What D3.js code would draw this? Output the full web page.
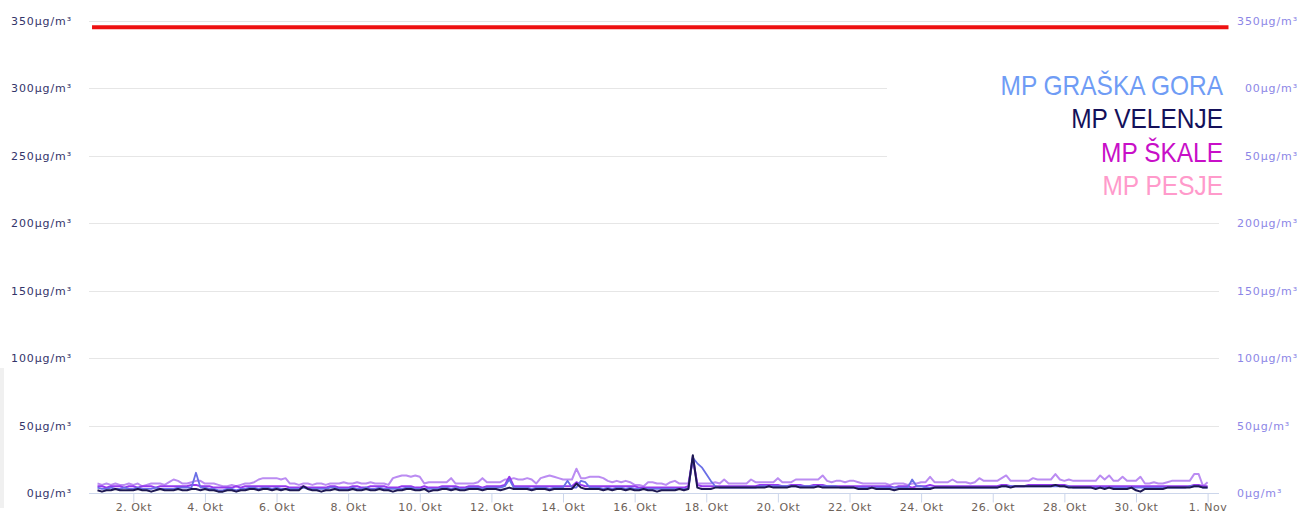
<!DOCTYPE html>
<html><head><meta charset="utf-8">
<script src="https://cdn.jsdelivr.net/npm/d3@7"></script>
<style>
html,body{margin:0;padding:0;background:#fff;overflow:hidden}
svg{display:block}
</style></head>
<body>
<svg id="c" width="1302" height="514"></svg>
<script>
// ---- data (3-hour steps from 1. Okt 00:00) ----
const seriesNames = ["MP GRAŠKA GORA","MP VELENJE","MP ŠKALE","MP PESJE"];
const legendColors = ["#6f9cf5","#14105a","#c80fc8","#ff9acb"];
const lineColors = ["#6a6fe6","#1d1852","#9638ee","#bb8cf2"];
const stepHours = 3;
const startDate = new Date(2023,9,1,0,0);

const grashkaGora = [
4,3,3,4,3,3,4,3, 3,4,3,3,3,4,3,3, 3,3,4,4,4,4,15,4, 4,3,3,2,2,3,3,2,
3,3,4,4,3,4,4,3, 4,3,3,3,3,3,4,3, 3,3,3,3,4,4,3,3, 3,4,3,3,4,3,3,4,
3,3,3,3,3,4,4,3, 3,3,3,3,3,4,4,3, 4,3,3,4,4,4,3,4, 4,4,4,5,10,4,4,4,
4,3,4,4,4,3,4,4, 4,9,4,4,9,8,4,4, 4,3,4,3,4,4,3,4, 3,3,3,3,3,3,3,3,
3,3,3,3,3,26,22,19, 14,9,5,4,4,4,4,4, 4,4,4,4,5,5,5,5, 5,5,5,5,5,5,5,5,
5,5,5,5,5,5,4,4, 4,4,4,4,4,4,4,4, 4,4,4,4,4,4,10,5, 5,4,4,4,4,4,4,4,
4,4,4,4,4,4,4,4, 4,4,5,5,5,5,5,5, 5,5,5,5,5,5,5,5, 5,5,4,4,4,4,4,4,
4,4,4,4,4,4,4,4, 4,4,4,4,4,4,4,4, 4,4,4,4,5,5,5,4, 4];

const velenje = [
2,1,2,2,3,2,2,2, 2,3,2,2,1,2,3,2, 2,2,3,2,2,3,3,2, 3,2,2,1,1,2,2,1,
2,2,3,3,2,3,3,2, 3,2,3,2,2,2,5,3, 2,2,1,2,2,3,2,2, 2,3,2,2,3,2,2,3,
2,2,1,2,2,3,3,2, 2,3,1,2,2,3,3,2, 3,2,2,3,3,3,2,3, 3,3,2,3,4,3,3,3,
3,2,3,3,3,2,3,3, 3,3,3,7,4,3,3,3, 3,2,3,2,3,3,2,3, 2,2,3,2,2,1,2,2,
2,2,3,2,3,28,4,3, 3,3,4,4,4,4,4,4, 4,4,4,4,4,4,5,4, 4,4,4,5,5,4,4,4,
4,5,4,4,4,4,4,4, 4,4,3,3,3,4,3,3, 3,3,2,3,3,3,3,3, 3,3,3,4,4,4,4,4,
4,4,4,4,4,4,4,4, 4,4,5,5,4,5,5,5, 5,5,5,5,5,5,6,5, 5,4,4,4,4,4,4,3,
4,3,4,3,3,3,3,4, 2,1,3,3,3,3,3,4, 4,4,4,4,4,5,5,4, 4];

const skale = [
5,5,4,5,5,5,4,5, 5,4,5,5,5,4,5,5, 5,5,5,5,5,6,6,5, 5,5,4,4,4,4,4,5,
4,5,5,5,5,5,5,5, 5,5,5,4,4,4,5,4, 4,4,4,4,5,5,4,4, 4,5,5,4,4,5,5,5,
5,4,4,4,5,5,5,4, 4,5,4,4,4,5,5,5, 5,4,4,5,5,5,4,5, 5,5,5,6,12,5,5,5,
5,5,5,5,5,5,5,5, 5,5,5,8,6,5,5,5, 5,5,5,5,5,5,5,5, 5,4,4,4,4,4,4,4,
4,4,4,4,5,27,6,5, 5,5,5,5,5,5,5,5, 5,5,5,5,6,6,6,6, 6,5,5,6,6,6,5,5,
6,6,6,5,5,5,5,5, 5,5,5,5,5,5,5,5, 5,5,4,5,5,5,4,5, 5,5,6,5,5,5,5,5,
5,5,5,5,5,5,5,5, 5,5,6,6,5,5,5,5, 6,6,6,6,6,6,6,6, 6,5,5,5,5,5,5,5,
5,5,5,5,5,5,5,5, 5,5,5,5,5,5,5,5, 5,5,5,5,5,6,6,5, 5];

const pesje = [
7,6,7,6,7,6,6,7, 6,7,5,6,7,7,7,6, 8,10,9,7,7,8,9,9, 7,7,7,6,5,5,6,5,
6,7,7,8,10,11,11,11, 11,10,11,7,7,6,7,7, 6,7,7,6,7,7,7,8, 7,7,8,7,7,8,7,7,
7,6,11,12,13,13,12,13, 12,7,8,8,8,8,8,11, 7,7,7,7,7,8,11,8, 8,8,8,10,10,11,10,10,
11,10,7,11,12,13,12,11, 10,10,10,18,11,11,12,12, 12,11,9,8,9,8,9,8, 6,6,5,8,8,7,7,6,
8,9,7,7,7,24,7,7, 7,7,8,7,10,7,7,7, 7,7,10,8,8,8,8,8, 11,8,8,8,10,10,10,10,
10,10,13,9,8,9,9,8, 9,9,8,7,7,7,7,7, 7,6,7,7,7,6,7,7, 8,8,12,8,8,8,8,10,
8,8,8,7,8,11,9,9, 9,9,11,13,9,9,9,9, 9,11,10,10,10,10,14,10, 9,10,9,9,9,9,9,9,
13,10,13,9,9,12,9,9, 9,12,7,7,8,7,7,8, 9,9,9,9,9,14,14,5, 8];

const limitValues = [345,345];
const limitDates = [new Date(2023,8,30,20,20), new Date(2023,10,1,14,0)];

const yTicks = [0,50,100,150,200,250,300,350];
const xTickDates = [2,4,6,8,10,12,14,16,18,20,22,24,26,28,30].map(d=>new Date(2023,9,d)).concat([new Date(2023,10,1)]);
const monthNames = ["Jan","Feb","Mar","Apr","Maj","Jun","Jul","Avg","Sep","Okt","Nov","Dec"];

// ---- chart ----
const svg = d3.select("#c");
const plotL = 89, plotR = 1219;
const x = d3.scaleTime().domain([new Date(2023,9,1), new Date(2023,10,1)]).range([97.5, 1207.6]);
const y = d3.scaleLinear().domain([0,350]).range([493, 20.5]);

// page artifact strip at left
svg.append("rect").attr("x",0).attr("y",368).attr("width",4).attr("height",140).attr("fill","#f0f0f0");

// grid
svg.append("g").selectAll("line").data(yTicks.filter(v=>v>0)).join("line")
  .attr("x1",plotL).attr("x2",plotR)
  .attr("y1",d=>Math.round(y(d))+0.5).attr("y2",d=>Math.round(y(d))+0.5)
  .attr("stroke","#e6e6e6").attr("stroke-width",1);

// x axis
const xAxisG = svg.append("g").attr("transform","translate(0,"+(Math.round(y(0))+0.5)+")");
xAxisG.append("line").attr("x1",plotL).attr("x2",plotR).attr("stroke","#ccd6eb");
const xAx = d3.axisBottom(x).tickValues(xTickDates).tickSize(9).tickSizeOuter(0)
  .tickFormat(d=>d.getDate()+". "+monthNames[d.getMonth()]);
const xa = svg.append("g").attr("transform","translate(0,"+(Math.round(y(0))+0.5)+")").call(xAx);
xa.select(".domain").remove();
xa.selectAll(".tick line").attr("stroke","#ccd6eb");
xa.selectAll(".tick text").attr("y",10).attr("fill","#6e6259")
  .style("font-family","DejaVu Sans").style("font-size","11px").style("letter-spacing","0.5px");

// left axis labels
const fmt = v=>v+"µg/m³";
const la = d3.axisLeft(y).tickValues(yTicks).tickSize(0).tickPadding(0).tickFormat(fmt);
const lag = svg.append("g").attr("transform","translate(72,0)").call(la);
lag.select(".domain").remove();
lag.selectAll(".tick text").attr("fill","#34346a").attr("dy","0.32em")
  .style("font-family","DejaVu Sans").style("font-size","11px").style("letter-spacing","0.9px");

// lines
const line = d3.line()
  .x((d,i)=>x(new Date(startDate.getTime()+i*stepHours*3600e3)))
  .y(d=>y(d)).curve(d3.curveLinear);
const seriesData = [pesje, skale, grashkaGora, velenje];
const seriesCol = [lineColors[3], lineColors[2], lineColors[0], lineColors[1]];
const seriesW = [2,2,1.8,2];
seriesData.forEach((s,k)=>{
  svg.append("path").datum(s).attr("d",line).attr("fill","none")
    .attr("stroke",seriesCol[k]).attr("stroke-width",seriesW[k]).attr("stroke-linejoin","round");
});

// limit line
svg.append("path").datum(limitValues.map((v,i)=>[limitDates[i],v]))
  .attr("d",d3.line().x(d=>x(d[0])).y(d=>y(d[1])))
  .attr("stroke","#ee1111").attr("stroke-width",4).attr("fill","none");

// right axis labels
const ra = d3.axisRight(y).tickValues(yTicks).tickSize(0).tickPadding(0).tickFormat(fmt);
const rag = svg.append("g").attr("transform","translate(1237,0)").call(ra);
rag.select(".domain").remove();
rag.selectAll(".tick text").attr("fill","#8c86e6").attr("dy","0.32em")
  .style("font-family","DejaVu Sans").style("font-size","11px").style("letter-spacing","0.9px");

// legend
const lg = svg.append("g");
lg.append("rect").attr("x",887).attr("y",62).attr("width",357).attr("height",143).attr("fill","#fff");
const baselines = [95,128,161.5,195];
seriesNames.forEach((n,i)=>{
  lg.append("text").text(n)
    .attr("transform","translate(1223,"+baselines[i]+") scale(0.89,1)")
    .attr("text-anchor","end").attr("fill",legendColors[i])
    .style("font-family","Liberation Sans, Arial, sans-serif").style("font-size","27.5px");
});
</script>
</body></html>
